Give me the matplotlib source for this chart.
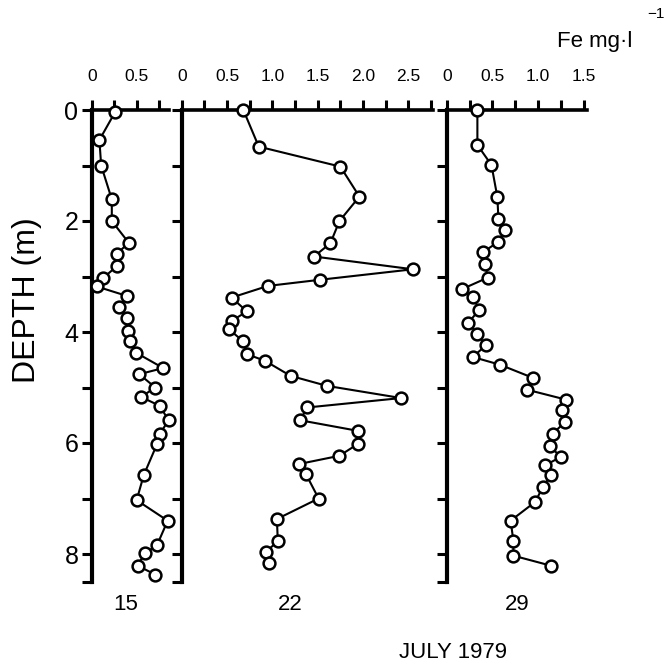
import numpy as np
import matplotlib
matplotlib.use('Agg')
import matplotlib.pyplot as plt

plt.rcParams['font.family'] = ['Liberation Sans', 'DejaVu Sans']

# Fe concentration (mg/l) vs depth (m), three sampling dates in July 1979
fe_15 = [0.26, 0.08, 0.10, 0.22, 0.22, 0.41, 0.28, 0.28, 0.12, 0.05, 0.39, 0.30, 0.39,
         0.405, 0.43, 0.49, 0.80, 0.53, 0.71, 0.55, 0.76, 0.86, 0.76, 0.73, 0.58, 0.50,
         0.85, 0.73, 0.59, 0.51, 0.71]
depth_15 = [0.03, 0.54, 1.0, 1.61, 2.0, 2.39, 2.59, 2.81, 3.03, 3.18, 3.35, 3.55, 3.75,
            3.99, 4.17, 4.37, 4.65, 4.76, 5.0, 5.17, 5.33, 5.59, 5.84, 6.02, 6.58, 7.03,
            7.40, 7.84, 7.99, 8.21, 8.37]

fe_22 = [0.68, 0.85, 1.75, 1.96, 1.74, 1.64, 1.46, 2.55, 1.52, 0.95, 0.55, 0.72, 0.55,
         0.52, 0.68, 0.72, 0.92, 1.20, 1.60, 2.42, 1.385, 1.305, 1.94, 1.94, 1.74, 1.29,
         1.37, 1.51, 1.05, 1.06, 0.93, 0.96]
depth_22 = [0.0, 0.66, 1.02, 1.56, 2.0, 2.40, 2.64, 2.87, 3.06, 3.17, 3.38, 3.63, 3.80,
            3.95, 4.17, 4.40, 4.52, 4.79, 4.97, 5.19, 5.36, 5.59, 5.78, 6.02, 6.23, 6.38,
            6.56, 7.0, 7.37, 7.77, 7.96, 8.17]

fe_29 = [0.336, 0.336, 0.49, 0.555, 0.566, 0.64, 0.56, 0.40, 0.42, 0.45, 0.164, 0.285,
         0.358, 0.237, 0.33, 0.43, 0.285, 0.584, 0.95, 0.88, 1.31, 1.26, 1.30, 1.16, 1.13,
         1.25, 1.08, 1.14, 1.05, 0.97, 0.70, 0.73, 0.73, 1.14]
depth_29 = [0.0, 0.63, 0.99, 1.57, 1.96, 2.16, 2.38, 2.56, 2.77, 3.02, 3.23, 3.37, 3.60,
            3.83, 4.03, 4.24, 4.45, 4.59, 4.83, 5.04, 5.22, 5.41, 5.62, 5.83, 6.06, 6.25,
            6.40, 6.58, 6.80, 7.06, 7.40, 7.76, 8.03, 8.21]

days = ['15', '22', '29']

W, H = 669, 666
fig = plt.figure(figsize=(W / 100, H / 100), dpi=100)

top_px, bottom_px = 110, 581.75
# (left px, right px, xmax, major ticks, minor ticks)
panels = [
    (92.3, 169.0, 0.865, [0, 0.5], [0.25, 0.75]),
    (181.7, 433.3, 2.775, [0, 0.5, 1.0, 1.5, 2.0, 2.5], [0.25, 0.75, 1.25, 1.75, 2.25, 2.75]),
    (446.7, 586.7, 1.533, [0, 0.5, 1.0, 1.5], [0.25, 0.75, 1.25]),
]
series = [(fe_15, depth_15), (fe_22, depth_22), (fe_29, depth_29)]
label_x = [126, 290, 517]

for i, ((l, r, xmax, maj, mnr), (fe, dep)) in enumerate(zip(panels, series)):
    ax = fig.add_axes([l / W, 1 - bottom_px / H, (r - l) / W, (bottom_px - top_px) / H])
    ax.plot(fe, dep, color='black', lw=1.5, marker='o', ms=8.5, mfc='white',
            mec='black', mew=1.8, clip_on=False, zorder=5)
    ax.set_xlim(0, xmax)
    ax.set_ylim(8.5, 0)
    for s in ['right', 'bottom']:
        ax.spines[s].set_visible(False)
    ax.spines['left'].set_linewidth(3)
    ax.spines['top'].set_linewidth(2.6)
    ax.xaxis.tick_top()
    ax.set_xticks(maj)
    ax.set_xticks(mnr, minor=True)
    ax.set_xticklabels(['0' if v == 0 else f'{v:.1f}' for v in maj])
    ax.tick_params(axis='x', which='both', direction='out', length=7, width=2.2,
                   labelsize=12.5, pad=12)
    ax.set_yticks([0, 2, 4, 6, 8])
    ax.set_yticks([1, 3, 5, 7, 8.5], minor=True)
    ax.tick_params(axis='y', which='both', direction='out', length=7, width=2.2,
                   labelsize=18, pad=3)
    if i > 0:
        ax.set_yticklabels([])
    fig.text(label_x[i] / W, 1 - 605 / H, days[i], ha='center', va='center', fontsize=16)

fig.text(27 / W, 1 - 300 / H, 'DEPTH (m)', rotation=90, ha='center', va='center', fontsize=23)
fig.text(453 / W, 1 - 652 / H, 'JULY 1979', ha='center', va='center', fontsize=16)
fig.text(595 / W, 1 - 42 / H, 'Fe mg\u00b7l', ha='center', va='center', fontsize=16)
fig.text(656 / W, 1 - 14 / H, '\u22121', ha='center', va='center', fontsize=11)

fig.savefig('out.png', dpi=100)
